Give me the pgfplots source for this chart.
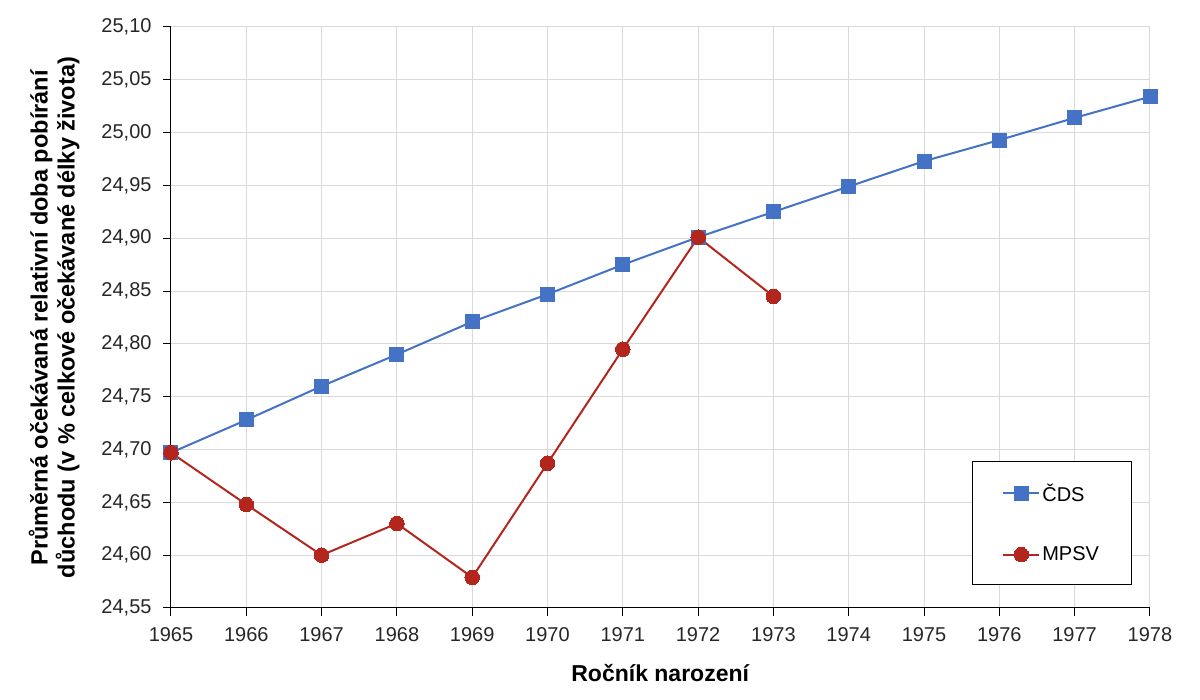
\documentclass[border=0pt]{standalone}
\usepackage{pgfplots}
\pgfplotsset{compat=1.18}
\usepackage{fontspec}
\setmainfont{Liberation Sans}
\definecolor{cdsblue}{HTML}{4472C4}
\definecolor{mpsvred}{HTML}{B3261E}
\definecolor{gridgray}{HTML}{D9D9D9}
\begin{document}
\begin{tikzpicture}
\path[use as bounding box] (-171pt,-92pt) rectangle (1029pt,608pt);
\begin{axis}[
  anchor=south west, at={(0pt,0pt)},
  scale only axis, width=979pt, height=581pt,
  xmin=1965, xmax=1978, ymin=24.55, ymax=25.10,
  xtick={1965,...,1978}, ytick={24.55,24.60,...,25.101},
  axis x line*=bottom, axis y line*=left,
  axis line style={black, line width=1pt, -},
  tick align=outside, major tick length=8pt,
  tick style={black, line width=1pt},
  grid=major, major grid style={gridgray, line width=1pt},
  clip=false,
  /pgf/number format/assume math mode=true,
  ticklabel style={font=\fontsize{20}{24}\selectfont, text=black!85},
  yticklabel style={/pgf/number format/.cd, fixed, fixed zerofill, precision=2, use comma},
  xticklabel style={/pgf/number format/.cd, 1000 sep={}},
  yticklabel shift=8pt,
  xticklabel shift=8pt,
  xlabel={\textbf{Ročník narození}},
  xlabel style={font=\fontsize{23}{27}\selectfont, yshift=-16pt},
  ylabel={\textbf{Průměrná očekávaná relativní doba pobírání}\\\textbf{důchodu (v \% celkové očekávané délky života)}},
  ylabel style={font=\fontsize{23.5}{27}\selectfont, align=center, yshift=15pt},
  legend style={at={(0.818,0.04)}, anchor=south west, draw=black, line width=1pt,
    font=\fontsize{20}{24}\selectfont, inner xsep=30pt, inner ysep=20pt, row sep=40pt,
    /tikz/every even column/.append style={column sep=4pt}},
  legend cell align=left,
  legend image code/.code={\draw[mark repeat=2,mark phase=2] plot coordinates {(0pt,0pt) (18pt,0pt) (36pt,0pt)};},
]
\addplot[cdsblue, line width=2pt, mark=square*, mark size=7pt, mark options={solid, fill=cdsblue, draw=cdsblue, line width=0pt}]
coordinates {
(1965,24.697) (1966,24.728) (1967,24.760) (1968,24.790) (1969,24.821)
(1970,24.847) (1971,24.875) (1972,24.901) (1973,24.925) (1974,24.949)
(1975,24.973) (1976,24.993) (1977,25.014) (1978,25.034)
};
\addlegendentry{ČDS}
\addplot[mpsvred, line width=2pt, mark=*, mark size=7.3pt, mark options={solid, fill=mpsvred, draw=mpsvred, line width=0pt}]
coordinates {
(1965,24.697) (1966,24.648) (1967,24.600) (1968,24.630) (1969,24.579)
(1970,24.687) (1971,24.795) (1972,24.901) (1973,24.845)
};
\addlegendentry{MPSV}
\end{axis}
\end{tikzpicture}
\end{document}
